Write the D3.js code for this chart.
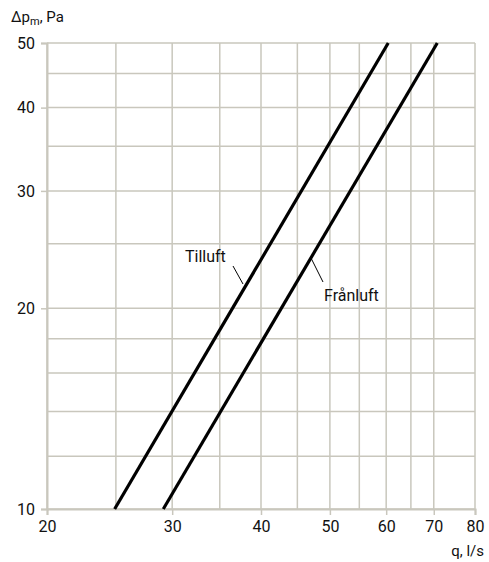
<!DOCTYPE html>
<html>
<head>
<meta charset="utf-8">
<script src="https://cdn.jsdelivr.net/npm/d3@7"></script>
<style>
  body { margin: 0; background: #fff; }
  text { font-family: Roboto, "DejaVu Sans", sans-serif; fill: #111; }
</style>
</head>
<body>
<svg id="chart" width="489" height="562"></svg>
<script>
// flow q (l/s) vs pressure drop (Pa), log-log
var xTicks = [20, 30, 40, 50, 60, 70, 80];
var yTicks = [10, 20, 30, 40, 50];
var xGrid = [20, 25, 30, 35, 40, 45, 50, 55, 60, 65, 70, 80];
var yGrid = [10, 12, 14, 16, 18, 20, 25, 30, 35, 40, 45, 50];

var tilluftQ = [24.9, 60.4];
var tilluftP = [10, 50];
var franluftQ = [29.15, 70.8];
var franluftP = [10, 50];

var svg = d3.select("#chart");
var margin = {top: 43, right: 14, bottom: 53, left: 47};
var width = 489 - margin.left - margin.right;
var height = 562 - margin.top - margin.bottom;

var g = svg.append("g")
    .attr("transform", "translate(" + margin.left + "," + margin.top + ")");

var x = d3.scaleLog().domain([20, 80]).range([0, width]);
var y = d3.scaleLog().domain([10, 50]).range([height, 0]);

var gridColor = "#c9c7bd";

// grid
g.selectAll(".vgrid")
    .data(xGrid)
    .enter().append("line")
    .attr("x1", function(d) { return x(d); })
    .attr("x2", function(d) { return x(d); })
    .attr("y1", 0)
    .attr("y2", height)
    .attr("stroke", gridColor)
    .attr("stroke-width", 1.5);

g.selectAll(".hgrid")
    .data(yGrid)
    .enter().append("line")
    .attr("x1", 0)
    .attr("x2", width)
    .attr("y1", function(d) { return y(d); })
    .attr("y2", function(d) { return y(d); })
    .attr("stroke", gridColor)
    .attr("stroke-width", 1.5);

// axes
var xAxis = g.append("g")
    .attr("transform", "translate(0," + height + ")")
    .call(d3.axisBottom(x).tickValues(xTicks).tickFormat(d3.format("d")).tickSize(6).tickPadding(6));

var yAxis = g.append("g")
    .call(d3.axisLeft(y).tickValues(yTicks).tickFormat(d3.format("d")).tickSize(6).tickPadding(6));

[xAxis, yAxis].forEach(function(a) {
    a.select(".domain").attr("stroke", gridColor).attr("stroke-width", 2);
    a.selectAll(".tick line").attr("stroke", gridColor).attr("stroke-width", 1.5);
    a.selectAll(".tick text")
        .style("font-family", "Roboto, 'DejaVu Sans', sans-serif")
        .style("font-size", "16px")
        .attr("fill", "#111");
});

// curves
var line = d3.line()
    .x(function(d) { return x(d[0]); })
    .y(function(d) { return y(d[1]); });

g.append("path")
    .datum(d3.zip(tilluftQ, tilluftP))
    .attr("d", line)
    .attr("fill", "none")
    .attr("stroke", "#000")
    .attr("stroke-width", 3.2);

g.append("path")
    .datum(d3.zip(franluftQ, franluftP))
    .attr("d", line)
    .attr("fill", "none")
    .attr("stroke", "#000")
    .attr("stroke-width", 3.2);

// labels with leader lines
svg.append("line")
    .attr("x1", 233).attr("y1", 266)
    .attr("x2", 243).attr("y2", 284)
    .attr("stroke", "#000").attr("stroke-width", 1);

svg.append("text")
    .attr("x", 185)
    .attr("y", 262)
    .style("font-size", "16px")
    .text("Tilluft");

svg.append("line")
    .attr("x1", 311).attr("y1", 258)
    .attr("x2", 323).attr("y2", 282)
    .attr("stroke", "#000").attr("stroke-width", 1);

svg.append("text")
    .attr("x", 324)
    .attr("y", 301)
    .style("font-size", "16px")
    .text("Frånluft");

// axis titles
var yt = svg.append("text")
    .attr("x", 11)
    .attr("y", 22)
    .style("font-size", "15px");
yt.append("tspan").text("\u0394p");
yt.append("tspan").attr("dy", 3).style("font-size", "11px").text("m");
yt.append("tspan").attr("dy", -3).text(", Pa");

svg.append("text")
    .attr("x", 484)
    .attr("y", 556)
    .attr("text-anchor", "end")
    .style("font-size", "15px")
    .text("q, l/s");
</script>
</body>
</html>
